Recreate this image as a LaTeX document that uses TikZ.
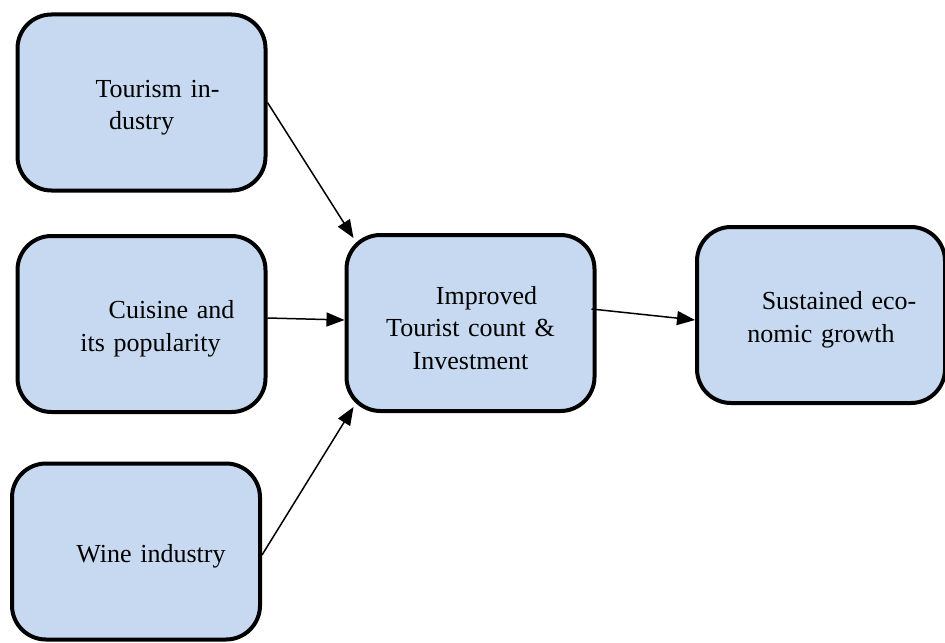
\documentclass[tikz,border=0pt]{standalone}
\usepackage{fontspec}
\setmainfont{Liberation Serif}
\usetikzlibrary{arrows.meta}
\definecolor{boxblue}{RGB}{198,217,240}

\begin{document}
\begin{tikzpicture}[
        x=0.5pt, y=-0.5pt, % one unit is one pixel of the layout
        box/.style = {draw, line width=2pt, rounded corners=17pt, fill=boxblue,
            minimum width=124pt, minimum height=88pt, text width=110pt, align=center,
            text height=14pt, font=\fontsize{13}{16.2}\selectfont}, % rounded boxes
        link/.style = {draw, line width=0.75pt, -{Triangle[length=9pt,width=7pt]}},
    ]
    \useasboundingbox (0,0) rectangle (945,642);

    \node[box] (tour) at (141.5,102.5) {\hspace*{16pt}Tourism in-\\dustry};
    \node[box] (cuis) at (141.5,324) {\hspace*{30pt}Cuisine and\\\hspace*{9pt}its popularity};
    \node[box] (wine) at (136,551.5) {\hspace*{15pt}Wine industry};
    \node[box] (impr) at (470.5,323) {\hspace*{16pt}Improved\\Tourist count \&\\Investment};
    \node[box] (sust) at (821,315) {\hspace*{18pt}Sustained eco-\\nomic growth};

    \draw[link] (tour.east) -- ([xshift=4.5pt,yshift=-2.5pt]impr.north west);
    \draw[link] ([yshift=3pt]cuis.east) -- ([yshift=1.5pt]impr.west);
    \draw[link] ([yshift=-1.75pt]wine.east) -- ([xshift=4.5pt,yshift=3pt]impr.south west);
    \draw[link] ([xshift=-2.5pt,yshift=7pt]impr.east) -- ([yshift=-2.5pt]sust.west);
\end{tikzpicture}
\end{document}
